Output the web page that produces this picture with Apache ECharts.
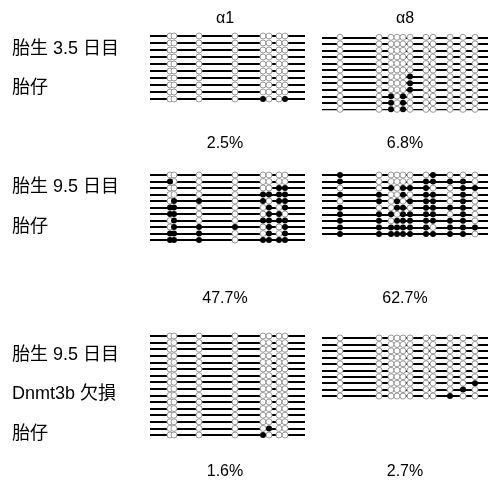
<!DOCTYPE html>
<html>
<head>
<meta charset="utf-8">
<script src="https://cdn.jsdelivr.net/npm/echarts@6/dist/echarts.min.js"></script>
<style>
html,body{margin:0;padding:0;background:#fff;}
#main{width:488px;height:481px;}
</style>
</head>
<body>
<div id="main"></div>
<script>
// CpG positions along each amplicon (relative units)
var a1Pos = [20, 24, 49, 85, 113, 119, 129, 135];
var a8Pos = [18, 57, 69, 75, 81, 88, 104, 111, 128, 141, 153];

// methylation per clone, 1 = methylated
var e35A1 = ['00000000','00000000','00000000','00000000','00000000',
             '00000000','00000000','00000000','00000000','00001001'];
var e35A8 = ['00000000000','00000000000','00000000000','00000000000',
             '00000000000','00000000000','00000100000','00000100000',
             '00000100000','00101000000','00101000000','00101000000'];
var e95A1 = ['00000000','10000000','00000011','00001111','01101011','11000101',
             '11000110','01001111','01110101','11100101','11101111'];
var e95A8 = ['10000001000','10000011110','00101110011','11001011010','01010111010',
             '10011011110','11101111010','11011111110','11111110111','11111111110'];
var koA1 = ['00000000','00000000','00000000','00000000','00000000','00000000',
            '00000000','00000000','00000000','00000000','00000000','00000000',
            '00000000','00000000','00000100','00001000'];
var koA8 = ['00000000000','00000000000','00000000000','00000000000','00000000000',
            '00000000000','00000000000','00000000001','00000000010','00000000100'];

var geneHeaders = ['α1', 'α8'];
var pctLabels = ['2.5%', '6.8%', '47.7%', '62.7%', '1.6%', '2.7%'];
var stageLabels = [['胎生 3.5 日目', '胎仔'], ['胎生 9.5 日目', '胎仔'], ['胎生 9.5 日目', 'Dnmt3b 欠損', '胎仔']];

var FONT = '"Liberation Sans", "Noto Sans CJK JP", sans-serif';

// panel placement: [rows, positions, left, width, firstRowY, rowGap, axisMax]
var panels = [
  [e35A1, a1Pos, 150, 155, 36, 7.0, 155],
  [e35A8, a8Pos, 322, 166, 37.3, 6.55, 166],
  [e95A1, a1Pos, 150, 155, 175, 6.5, 155],
  [e95A8, a8Pos, 322, 166, 175, 6.55, 166],
  [koA1, a1Pos, 150, 155, 336, 6.6, 155],
  [koA8, a8Pos, 322, 166, 338, 6.45, 166]
];

var grids = [], xAxes = [], yAxes = [], series = [];
panels.forEach(function (p, i) {
  var rows = p[0], pos = p[1], n = rows.length;
  grids.push({left: p[2], width: p[3], top: p[4], height: (n - 1) * p[5]});
  xAxes.push({gridIndex: i, type: 'value', min: 0, max: p[6], show: false});
  yAxes.push({gridIndex: i, type: 'value', min: 0, max: n - 1, inverse: true, show: false});
  var strands = [], open = [], meth = [];
  rows.forEach(function (r, k) {
    strands.push({coords: [[0, k], [p[6], k]]});
    for (var j = 0; j < pos.length; j++) {
      if (r[j] === '1') meth.push([pos[j], k]);
      else open.push([pos[j], k]);
    }
  });
  series.push({
    type: 'lines', coordinateSystem: 'cartesian2d', xAxisIndex: i, yAxisIndex: i,
    data: strands, z: 1, silent: true,
    lineStyle: {color: '#000', width: 2, opacity: 1}
  });
  series.push({
    type: 'scatter', xAxisIndex: i, yAxisIndex: i, data: open, z: 2,
    symbol: 'circle', symbolSize: 6,
    itemStyle: {color: '#fff', borderColor: '#999', borderWidth: 1, opacity: 1}
  });
  series.push({
    type: 'scatter', xAxisIndex: i, yAxisIndex: i, data: meth, z: 3,
    symbol: 'circle', symbolSize: 6,
    itemStyle: {color: '#000', opacity: 1}
  });
});

var texts = [];
var colX = [225, 405];
geneHeaders.forEach(function (h, i) {
  texts.push({type: 'text', x: colX[i], y: 19,
    style: {text: h, font: '16px ' + FONT, fill: '#000', textAlign: 'center', textVerticalAlign: 'middle'}});
});
var pctY = [144, 144, 299, 299, 472, 472];
pctLabels.forEach(function (t, i) {
  texts.push({type: 'text', x: colX[i % 2], y: pctY[i],
    style: {text: t, font: '16px ' + FONT, fill: '#000', textAlign: 'center', textVerticalAlign: 'middle'}});
});
var labelY = [[49, 88], [187, 227], [355, 394, 434]];
stageLabels.forEach(function (grp, g) {
  grp.forEach(function (t, k) {
    texts.push({type: 'text', x: 12, y: labelY[g][k],
      style: {text: t, font: '18px ' + FONT, fill: '#000', textAlign: 'left', textVerticalAlign: 'middle'}});
  });
});

var chart = echarts.init(document.getElementById('main'));
chart.setOption({
  animation: false,
  backgroundColor: '#fff',
  grid: grids,
  xAxis: xAxes,
  yAxis: yAxes,
  series: series,
  graphic: texts
});
</script>
</body>
</html>
